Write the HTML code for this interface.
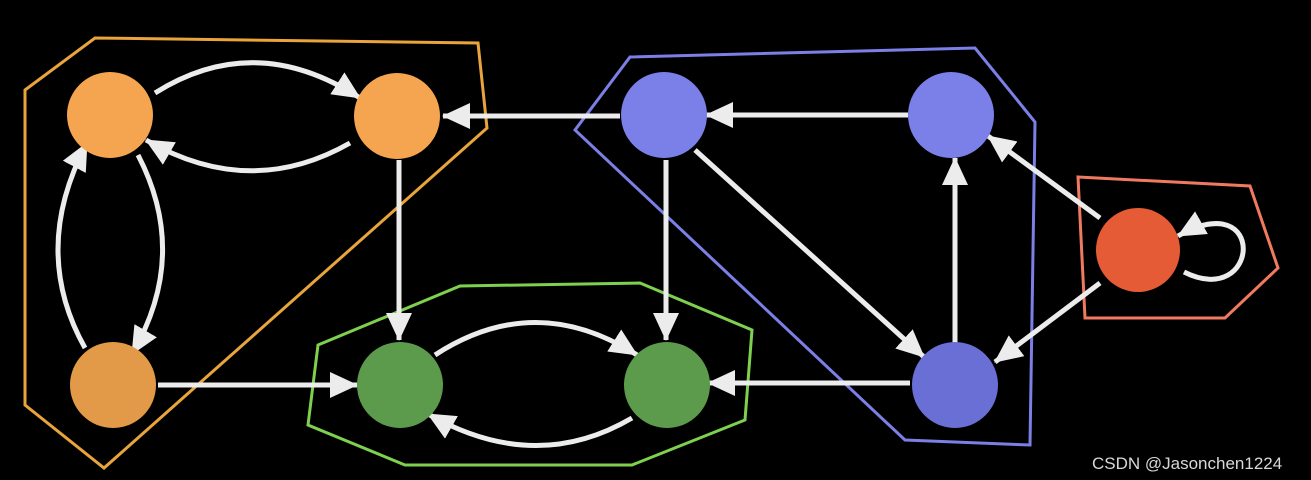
<!DOCTYPE html>
<html><head><meta charset="utf-8"><style>
html,body{margin:0;padding:0;background:#000;width:1311px;height:480px;overflow:hidden}
</style></head><body>
<svg width="1311" height="480" viewBox="0 0 1311 480" xmlns="http://www.w3.org/2000/svg">
<defs>
<marker id="a" markerUnits="userSpaceOnUse" markerWidth="30" markerHeight="28" refX="27" refY="14" orient="auto">
<path d="M0,1 L28,14 L0,27 Z" fill="#ececec"/>
</marker>
</defs>
<rect width="1311" height="480" fill="#000"/>
<polygon points="25,90 95,38 478,43 487,128 104,468 25,405" fill="none" stroke="#e9a43c" stroke-width="3"/>
<polygon points="318,345 460,286 640,283 752,330 745,420 632,465 405,465 308,425" fill="none" stroke="#7ed04e" stroke-width="3"/>
<polygon points="575,130 630,57 975,48 1035,122 1030,445 905,440" fill="none" stroke="#7b7fe6" stroke-width="3"/>
<polygon points="1078,177 1250,186 1278,268 1225,318 1085,318" fill="none" stroke="#f07a60" stroke-width="3"/>
<g fill="none" stroke="#ececec" stroke-width="5" marker-end="url(#a)">
<path d="M155,93 Q255,30 360,98"/>
<path d="M350,143 Q250,200 146,140"/>
<path d="M138,155 Q190,255 132,354"/>
<path d="M85,348 Q30,250 87,143"/>
<path d="M399,160 L399,340"/>
<path d="M158,385 L357,385"/>
<path d="M620,116 L443,116"/>
<path d="M908,115 L706,115"/>
<path d="M666,160 L666,340"/>
<path d="M695,150 L924,357"/>
<path d="M955,343 L955,158"/>
<path d="M910,383 L708,383"/>
<path d="M435,355 Q535,290 637,355"/>
<path d="M632,418 Q535,475 428,414"/>
<path d="M1100,218 L988,136"/>
<path d="M1100,283 L995,362"/>
<path d="M1184,272 C1260,310 1268,185 1178,236"/>
</g>
<circle cx="110" cy="115" r="43" fill="#f5a54f"/>
<circle cx="397" cy="116" r="43" fill="#f5a54f"/>
<circle cx="113" cy="385" r="43" fill="#e39a48"/>
<circle cx="400" cy="385" r="43" fill="#5c9b4c"/>
<circle cx="667" cy="385" r="43" fill="#5c9b4c"/>
<circle cx="664" cy="115" r="43" fill="#7b7fe8"/>
<circle cx="951" cy="115" r="43" fill="#7b7fe8"/>
<circle cx="955" cy="385" r="43" fill="#6a6fd6"/>
<circle cx="1138" cy="250" r="42" fill="#e55b35"/>
<text x="1092" y="469" font-family="Liberation Sans, sans-serif" font-size="17" fill="#d8d8d8">CSDN @Jasonchen1224</text>
</svg>
</body></html>
